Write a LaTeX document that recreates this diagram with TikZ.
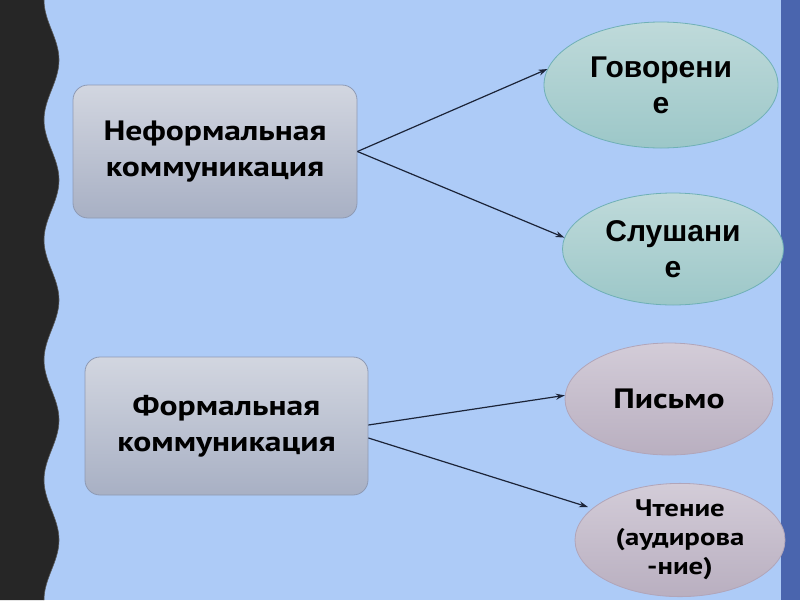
\documentclass[tikz,border=0pt]{standalone}
\usepackage{fontspec}
\newfontfamily\gill[FakeStretch=1.2]{PT Sans}
\newfontfamily\arialf{Liberation Sans}
\usetikzlibrary{shapes.geometric,arrows.meta}
\definecolor{bgblue}{HTML}{ADCBF7}
\definecolor{darkstrip}{HTML}{262626}
\definecolor{rightstrip}{HTML}{4A65AE}
\definecolor{boxtop}{HTML}{D2D6E0}
\definecolor{boxbot}{HTML}{A8B0C4}
\definecolor{boxline}{HTML}{8E9AB4}
\definecolor{tealtop}{HTML}{BFDADA}
\definecolor{tealbot}{HTML}{9CC7C8}
\definecolor{tealline}{HTML}{6FB0B6}
\definecolor{pinktop}{HTML}{D3CCD8}
\definecolor{pinkbot}{HTML}{B9AFC0}
\definecolor{pinkline}{HTML}{B1A5B9}
\definecolor{arrowc}{HTML}{1C2438}
\tikzset{
  catbox/.style={draw=boxline, line width=0.8pt, rounded corners=15pt, top color=boxtop, bottom color=boxbot, inner sep=0pt, align=center, font=\gill\bfseries\fontsize{28}{36}\selectfont},
  tealell/.style={ellipse, draw=tealline, line width=0.8pt, top color=tealtop, bottom color=tealbot, inner sep=0pt, align=center, font=\arialf\bfseries\fontsize{30}{36}\selectfont},
  pinkell/.style={ellipse, draw=pinkline, line width=0.8pt, top color=pinktop, bottom color=pinkbot, inner sep=0pt, align=center, font=\gill\bfseries\fontsize{24}{29}\selectfont},
  conn/.style={draw=arrowc, line width=1.2pt, -{Stealth[length=9pt,width=6pt]}}
}
\begin{document}
\begin{tikzpicture}[x=1pt,y=-1pt]
\useasboundingbox (0,0) rectangle (800,600);
\fill[bgblue] (0,0) rectangle (800,600);
\fill[rightstrip] (781,0) rectangle (800,600);
\fill[darkstrip] (0,0) -- plot[domain=0:600, samples=121, smooth] ({51.5-7.5*cos(3*\x)}, \x) -- (0,600) -- cycle;
\draw[gray!70!black, line width=0.6pt] plot[domain=0:600, samples=121, smooth] ({51.5-7.5*cos(3*\x)}, \x);

\node[catbox, minimum width=284pt, minimum height=133pt] (b1) at (215,151.5) {Неформальная\\коммуникация};
\node[catbox, minimum width=283pt, minimum height=138pt] (b2) at (226.5,426) {Формальная\\коммуникация};

\node[tealell, minimum width=234pt, minimum height=126pt] (gov) at (661,85) {Говорени\\е};
\node[tealell, minimum width=221pt, minimum height=112pt] (slu) at (673,249) {Слушани\\е};
\node[pinkell, minimum width=208pt, minimum height=112pt, font=\gill\bfseries\fontsize{28}{30}\selectfont] (pis) at (669,399) {Письмо};
\node[pinkell, minimum width=210pt, minimum height=104pt] (cht) at (680,540) {Чтение\\(аудирова\\-ние)};

\coordinate (chtend) at (588,507);
\draw[conn] (b1.east) -- (gov.172);
\draw[conn] (b1.east) -- (slu.174);
\draw[conn] ([yshift=1pt]b2.east) -- (pis.178);
\draw[conn] ([yshift=-12pt]b2.east) -- (chtend);
\end{tikzpicture}
\end{document}
